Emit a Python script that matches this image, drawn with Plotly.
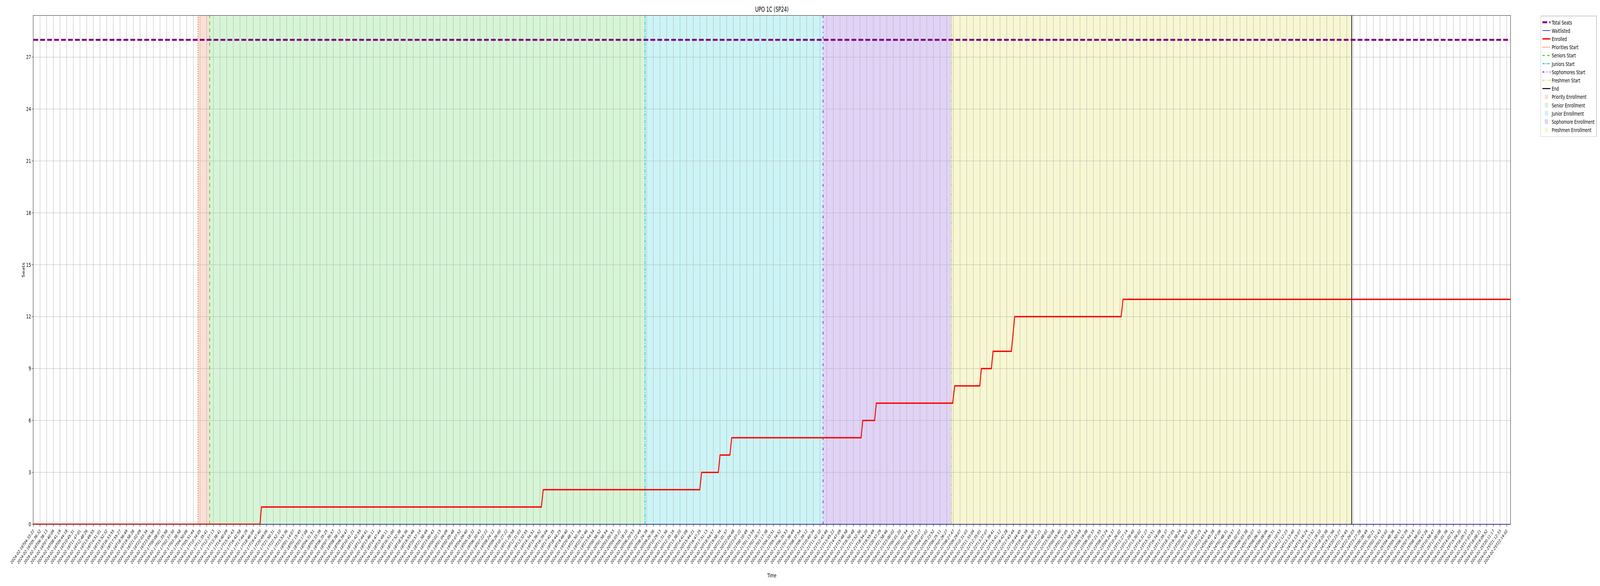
import plotly.graph_objects as go

# tick labels, one per sample
tick_labels = [
    '2024-02-16T04:33:22', '2024-02-16T05:36:32', '2024-02-16T06:38:13', '2024-02-16T07:40:09',
    '2024-02-16T08:41:19', '2024-02-16T09:44:18', '2024-02-16T10:45:31', '2024-02-16T11:47:01',
    '2024-02-16T12:48:26', '2024-02-16T13:49:55', '2024-02-16T14:51:01', '2024-02-16T15:52:32',
    '2024-02-16T16:53:55', '2024-02-16T17:55:27', '2024-02-16T18:56:49', '2024-02-16T19:58:28',
    '2024-02-16T21:02:09', '2024-02-16T22:03:34', '2024-02-16T23:04:56',
    '2024-02-17T00:08:07', '2024-02-17T01:35:58', '2024-02-17T02:37:30', '2024-02-17T03:38:58',
    '2024-02-17T04:50:06', '2024-02-17T05:51:44', '2024-02-17T10:34:05', '2024-02-17T11:35:41',
    '2024-02-17T12:37:13', '2024-02-17T13:38:41', '2024-02-17T14:40:09', '2024-02-17T15:41:43',
    '2024-02-17T16:42:58', '2024-02-17T17:44:29', '2024-02-17T18:46:04', '2024-02-17T19:47:40',
    '2024-02-17T20:49:06', '2024-02-17T21:50:31', '2024-02-17T22:52:10', '2024-02-17T23:53:36',
    '2024-02-18T01:14:07', '2024-02-18T02:15:45', '2024-02-18T03:17:08', '2024-02-18T04:31:51',
    '2024-02-18T05:33:39', '2024-02-18T06:35:25', '2024-02-18T07:36:57', '2024-02-18T08:38:12',
    '2024-02-18T09:39:47', '2024-02-18T10:41:21', '2024-02-18T11:42:59', '2024-02-18T12:44:41',
    '2024-02-18T13:46:11', '2024-02-18T14:47:44', '2024-02-18T15:49:11', '2024-02-18T16:51:00',
    '2024-02-18T17:52:38', '2024-02-18T18:54:36', '2024-02-18T19:55:46', '2024-02-18T20:57:14',
    '2024-02-18T21:58:49', '2024-02-18T23:00:43',
    '2024-02-19T00:02:15', '2024-02-19T01:04:09', '2024-02-19T02:05:48', '2024-02-19T03:07:52',
    '2024-02-19T04:09:40', '2024-02-19T05:18:32', '2024-02-19T06:20:43', '2024-02-19T07:22:22',
    '2024-02-19T08:24:12', '2024-02-19T09:26:00', '2024-02-19T10:27:22', '2024-02-19T11:28:58',
    '2024-02-19T12:31:03', '2024-02-19T13:32:55', '2024-02-19T14:34:51', '2024-02-19T15:36:52',
    '2024-02-19T16:39:04', '2024-02-19T17:41:35', '2024-02-19T18:44:25', '2024-02-19T19:46:40',
    '2024-02-19T20:48:11', '2024-02-19T21:50:34', '2024-02-19T22:52:46', '2024-02-19T23:54:54',
    '2024-02-20T00:56:52', '2024-02-20T01:58:54', '2024-02-20T03:00:53', '2024-02-20T04:03:22',
    '2024-02-20T05:18:10', '2024-02-20T06:20:53', '2024-02-20T07:22:49', '2024-02-20T08:24:39',
    '2024-02-20T09:26:36', '2024-02-20T10:29:13', '2024-02-20T11:31:56', '2024-02-20T12:35:16',
    '2024-02-20T13:38:20', '2024-02-20T14:41:08', '2024-02-20T15:44:21', '2024-02-20T16:47:25',
    '2024-02-20T17:51:13', '2024-02-20T18:54:57', '2024-02-20T19:58:34', '2024-02-20T21:01:57',
    '2024-02-20T22:04:48', '2024-02-20T23:07:22',
    '2024-02-21T00:10:49', '2024-02-21T01:13:59', '2024-02-21T02:16:37', '2024-02-21T03:17:38',
    '2024-02-21T04:33:51', '2024-02-21T05:34:52', '2024-02-21T06:35:53', '2024-02-21T07:36:49',
    '2024-02-21T08:37:54', '2024-02-21T09:39:12', '2024-02-21T10:40:34', '2024-02-21T11:42:10',
    '2024-02-21T12:43:46', '2024-02-21T13:45:22', '2024-02-21T14:47:09', '2024-02-21T15:48:58',
    '2024-02-21T16:50:48', '2024-02-21T17:52:36', '2024-02-21T18:54:20', '2024-02-21T19:55:49',
    '2024-02-21T20:57:29', '2024-02-21T21:58:46', '2024-02-21T23:00:02',
    '2024-02-22T00:01:20', '2024-02-22T01:02:54', '2024-02-22T02:04:21', '2024-02-22T03:05:27',
    '2024-02-22T04:07:02', '2024-02-22T05:23:52', '2024-02-22T06:25:11', '2024-02-22T07:26:27',
    '2024-02-22T08:27:47', '2024-02-22T09:29:07', '2024-02-22T10:31:03', '2024-02-22T11:33:04',
    '2024-02-22T12:35:01', '2024-02-22T13:37:07', '2024-02-22T14:39:41', '2024-02-22T15:41:12',
    '2024-02-22T16:42:28', '2024-02-22T17:43:44', '2024-02-22T18:44:45', '2024-02-22T19:45:39',
    '2024-02-22T20:46:30', '2024-02-22T21:47:21', '2024-02-22T22:48:02', '2024-02-22T23:50:08',
    '2024-02-23T00:55:40', '2024-02-23T01:57:05', '2024-02-23T02:58:23', '2024-02-23T03:59:59',
    '2024-02-23T05:19:08', '2024-02-23T06:20:33', '2024-02-23T07:21:55', '2024-02-23T08:23:24',
    '2024-02-23T09:24:37', '2024-02-23T10:26:02', '2024-02-23T11:27:14', '2024-02-23T12:28:40',
    '2024-02-23T13:30:02', '2024-02-23T14:31:27', '2024-02-23T15:32:51', '2024-02-23T16:34:08',
    '2024-02-23T17:35:37', '2024-02-23T18:37:05', '2024-02-23T19:38:24', '2024-02-23T20:39:52',
    '2024-02-23T21:41:09', '2024-02-23T22:42:25', '2024-02-23T23:43:54',
    '2024-02-24T00:45:28', '2024-02-24T01:47:06', '2024-02-24T02:48:31', '2024-02-24T03:49:57',
    '2024-02-24T05:02:07', '2024-02-24T06:03:38', '2024-02-24T07:05:07', '2024-02-24T08:06:32',
    '2024-02-24T09:08:06', '2024-02-24T10:09:31', '2024-02-24T11:10:53', '2024-02-24T12:12:23',
    '2024-02-24T13:13:40', '2024-02-24T14:15:07', '2024-02-24T15:16:24', '2024-02-24T16:17:52',
    '2024-02-24T17:19:10', '2024-02-24T18:20:38', '2024-02-24T19:21:56', '2024-02-24T20:23:27',
    '2024-02-24T21:24:45', '2024-02-24T22:26:03', '2024-02-24T23:27:28',
    '2024-02-25T00:28:49', '2024-02-25T01:30:21', '2024-02-25T02:31:43', '2024-02-25T03:33:02',
    '2024-02-25T04:48:36', '2024-02-25T05:50:53', '2024-02-25T06:52:39', '2024-02-25T07:54:14',
    '2024-02-25T08:56:02', '2024-02-25T09:57:26', '2024-02-25T10:58:47', '2024-02-25T12:00:08',
    '2024-02-25T13:01:36', '2024-02-25T14:02:51', '2024-02-25T15:04:20', '2024-02-25T16:05:37',
    '2024-02-25T17:07:05', '2024-02-25T18:08:21', '2024-02-25T19:09:52', '2024-02-25T20:11:17',
    '2024-02-25T21:12:33', '2024-02-25T22:14:02',
]

total_seats = 28
last_sample = 221.55  # data runs a little past the last labelled tick

# enrolled count: where each rise begins / ends (in sample-index units) and the new value
rise_start = [34.0, 76.2, 99.96, 102.74, 104.48, 124.16, 126.18, 137.9, 141.96, 143.7, 146.7, 163.16]
rise_end = [34.22, 76.48, 100.24, 103.0, 104.75, 124.4, 126.45, 138.2, 142.2, 143.95, 147.2, 163.45]
enrolled_levels = [1, 2, 3, 4, 5, 6, 7, 8, 9, 10, 12, 13]
waitlisted_level = 0

# phase markers (sample-index units)
marker_names = ['Priorities Start', 'Seniors Start', 'Juniors Start', 'Sophomores Start', 'Freshmen Start', 'End']
marker_pos = [24.7, 26.45, 91.75, 118.45, 137.75, 197.75]
span_names = ['Priority Enrollment', 'Senior Enrollment', 'Junior Enrollment',
              'Sophomore Enrollment', 'Freshmen Enrollment']

marker_colors = ['#EE6E3A', '#3ACC1E', '#12C3D2', '#6A2ED6', '#DADA30', 'black']
marker_dash = ['dot', 'dash', 'dashdot', '7px,9px,2px,9px', '8px,4px,2px,4px,2px,4px', 'solid']
span_fills = ['rgba(230,110,60,0.22)', 'rgba(50,205,50,0.2)', 'rgba(0,200,210,0.2)',
              'rgba(100,35,210,0.2)', 'rgba(220,220,50,0.22)']

W, H = 6000, 1500
font = 'DejaVu Sans'

# build the enrolled path from the change points
ex = [0]
ey = [0]
prev = 0
for xs, xe, lvl in zip(rise_start, rise_end, enrolled_levels):
    ex += [xs, xe]
    ey += [prev, lvl]
    prev = lvl
ex.append(last_sample)
ey.append(prev)

fig = go.Figure()

fig.add_trace(go.Scatter(
    x=[0, last_sample], y=[total_seats, total_seats], mode='lines', name='Total Seats',
    line=dict(color='#800080', width=5, dash='18px,8px'), legendrank=1
))
fig.add_trace(go.Scatter(
    x=[0, last_sample], y=[waitlisted_level, waitlisted_level], mode='lines', name='Waitlisted',
    line=dict(color='blue', width=1.5), legendrank=2, cliponaxis=False
))
fig.add_trace(go.Scatter(
    x=ex, y=ey, mode='lines', name='Enrolled',
    line=dict(color='red', width=3.5), legendrank=3, cliponaxis=False
))

# shaded enrollment windows
for i, name in enumerate(span_names):
    fig.add_shape(
        type='rect', xref='x', yref='paper', x0=marker_pos[i], x1=marker_pos[i + 1], y0=0, y1=1,
        fillcolor=span_fills[i], line=dict(width=0), layer='below',
        name=name, showlegend=True, legendrank=20 + i
    )

# phase start / end lines
for i, name in enumerate(marker_names):
    fig.add_shape(
        type='line', xref='x', yref='paper', x0=marker_pos[i], x1=marker_pos[i], y0=0, y1=1,
        line=dict(color=marker_colors[i], width=2.5, dash=marker_dash[i]), layer='between',
        name=name, showlegend=True, legendrank=10 + i
    )

fig.update_layout(
    width=W, height=H,
    paper_bgcolor='white', plot_bgcolor='white',
    font=dict(family=font, size=14, color='black'),
    title=dict(text='UPO 1C (SP24)', x=0.5, xref='paper', y=0.984, yref='container',
               yanchor='middle', font=dict(size=17)),
    margin=dict(l=125, r=317, t=40, b=158),
    legend=dict(x=1.0205, y=1.0, xanchor='left', yanchor='top', bordercolor='#cccccc',
                borderwidth=1.5, font=dict(size=14), tracegroupgap=0, bgcolor='white'),
    xaxis=dict(
        range=[0, last_sample], tickmode='array', tickvals=list(range(len(tick_labels))),
        ticktext=tick_labels, tickangle=-45, tickfont=dict(size=11),
        showgrid=True, gridcolor='#b0b0b0', gridwidth=1, zeroline=False,
        showline=True, linecolor='black', linewidth=1.2, mirror=True,
        ticks='outside', ticklen=5, tickcolor='black', automargin=False,
        title=dict(text='Time', font=dict(size=14), standoff=22)
    ),
    yaxis=dict(
        range=[0, total_seats * 1.05], tick0=0, dtick=3, tickfont=dict(size=14),
        showgrid=True, gridcolor='#b0b0b0', gridwidth=1, zeroline=False,
        showline=True, linecolor='black', linewidth=1.2, mirror=True,
        ticks='outside', ticklen=5, tickcolor='black', automargin=False,
        title=dict(text='Seats', font=dict(size=14), standoff=2)
    ),
)

# the browser window may be narrower than the figure: stretch the 6000x1500 figure
# onto whatever viewport is there so the whole chart is captured
fit_js = (
    "document.documentElement.style.margin='0';"
    "document.body.style.margin='0';"
    "document.documentElement.style.overflow='hidden';"
    "document.body.style.overflow='hidden';"
    "var gd=document.getElementById('{plot_id}');"
    "var sx=window.innerWidth/%d, sy=window.innerHeight/%d;"
    "if (Math.abs(sx-1)>0.005 || Math.abs(sy-1)>0.005) {"
    " gd.style.transformOrigin='0 0'; gd.style.transform='scale('+sx+','+sy+')'; }" % (W, H)
)

fig.write_html('out.html', post_script=fit_js, config={'displayModeBar': False})
